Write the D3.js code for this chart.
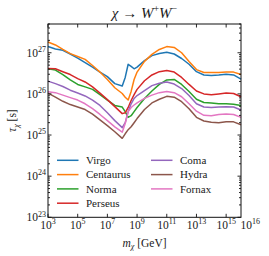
<!DOCTYPE html>
<html>
<head>
<meta charset="utf-8">
<script src="https://cdn.jsdelivr.net/npm/d3@7"></script>
<style>
  body { margin: 0; background: #fff; }
  text { font-family: "Liberation Serif", "DejaVu Serif", serif; fill: #1a1a1a; }
</style>
</head>
<body>
<div id="chart"></div>
<script>
// log10 of the dark matter mass in GeV
const massExp = [3, 3.5, 4, 4.5, 5, 5.5, 6, 6.5, 7, 7.5, 8, 8.2, 8.4, 8.6, 8.8, 9,
  9.5, 10, 10.5, 11, 11.5, 12, 12.5, 13, 13.5, 14, 14.5, 15, 15.5, 16];

// log10 of the lifetime bound in s
const virgo = [27.15, 27.09, 27.06, 26.97, 26.87, 26.76, 26.65, 26.53, 26.42, 26.25, 26.19, 26.40, 26.72, 26.67, 26.61,
  26.65, 26.81, 26.93, 26.98, 27.01, 26.97, 26.86, 26.72, 26.54, 26.46, 26.45, 26.46, 26.48, 26.46, 26.36];
const centaurus = [27.26, 27.19, 27.08, 26.98, 26.91, 26.84, 26.69, 26.53, 26.35, 26.15, 26.01, 25.92, 25.85, 26.06, 26.35,
  26.53, 26.79, 26.96, 27.08, 27.15, 27.13, 27.00, 26.79, 26.59, 26.52, 26.52, 26.52, 26.53, 26.53, 26.47];
const norma = [26.61, 26.58, 26.47, 26.34, 26.23, 26.17, 26.11, 25.98, 25.85, 25.72, 25.68, 25.57, 25.43, 25.47, 25.57,
  25.67, 25.89, 26.07, 26.23, 26.34, 26.35, 26.23, 26.06, 25.87, 25.79, 25.78, 25.76, 25.76, 25.75, 25.72];
const perseus = [26.62, 26.61, 26.54, 26.47, 26.37, 26.29, 26.17, 26.02, 25.86, 25.69, 25.52, 25.54, 25.67, 25.84, 25.98,
  26.11, 26.32, 26.46, 26.54, 26.57, 26.53, 26.40, 26.23, 26.07, 26.00, 25.98, 26.00, 26.02, 26.01, 25.93];
const coma = [26.31, 26.25, 26.18, 26.09, 26.02, 25.95, 25.85, 25.72, 25.54, 25.35, 25.18, 25.30, 25.57, 25.76, 25.89,
  25.96, 26.08, 26.20, 26.26, 26.29, 26.24, 26.13, 25.96, 25.76, 25.68, 25.67, 25.68, 25.69, 25.68, 25.61];
const hydra = [26.02, 25.92, 25.82, 25.74, 25.68, 25.62, 25.51, 25.37, 25.23, 25.08, 24.92, 25.03, 25.13, 25.20, 25.30,
  25.40, 25.62, 25.78, 25.87, 25.94, 25.92, 25.81, 25.64, 25.43, 25.34, 25.31, 25.30, 25.32, 25.32, 25.25];
const fornax = [26.05, 26.03, 25.97, 25.91, 25.85, 25.76, 25.64, 25.50, 25.35, 25.20, 25.07, 25.28, 25.57, 25.67, 25.73,
  25.78, 25.89, 25.97, 26.03, 26.06, 26.03, 25.93, 25.76, 25.58, 25.48, 25.47, 25.50, 25.51, 25.50, 25.43];

const clusterNames = ["Virgo", "Centaurus", "Norma", "Perseus", "Coma", "Hydra", "Fornax"];
const clusterValues = [virgo, centaurus, norma, perseus, coma, hydra, fornax];
const colors = ["#1f77b4", "#ff7f0e", "#2ca02c", "#d62728", "#9467bd", "#8c564b", "#e377c2"];

const xTickExp = [3, 5, 7, 9, 11, 13, 15, 16];
const yTickExp = [23, 24, 25, 26, 27];

const width = 269, height = 256;
const margin = {top: 24, right: 28, bottom: 38.7, left: 48};
const w = width - margin.left - margin.right;
const h = height - margin.top - margin.bottom;

const svg = d3.select("#chart").append("svg")
    .attr("width", width)
    .attr("height", height);
const g = svg.append("g")
    .attr("transform", `translate(${margin.left},${margin.top})`);

const x = d3.scaleLog().domain([1e3, 1e16]).range([0, w]);
const y = d3.scaleLog().domain([1e23, 5e27]).range([h, 0]);

// curves
const line = d3.line()
    .x(d => x(d[0]))
    .y(d => y(d[1]));

clusterValues.forEach((vals, i) => {
    const pts = massExp.map((m, j) => [Math.pow(10, m), Math.pow(10, vals[j])]);
    g.append("path")
        .datum(pts)
        .attr("fill", "none")
        .attr("stroke", colors[i])
        .attr("stroke-width", 1.5)
        .attr("stroke-linejoin", "round")
        .attr("d", line);
});

// frame
g.append("rect")
    .attr("width", w).attr("height", h)
    .attr("fill", "none").attr("stroke", "#111").attr("stroke-width", 1);

// y ticks, inward on both sides
const yMinor = [];
yTickExp.forEach(e => { for (let k = 2; k <= 9; k++) { const v = k * Math.pow(10, e); if (v <= 5e27) yMinor.push(v); } });
const ticks = g.append("g").attr("stroke", "#111").attr("stroke-width", 0.9);
yTickExp.forEach(e => {
    const yy = y(Math.pow(10, e));
    ticks.append("line").attr("x1", 0).attr("x2", 3.5).attr("y1", yy).attr("y2", yy);
    ticks.append("line").attr("x1", w).attr("x2", w - 3.5).attr("y1", yy).attr("y2", yy);
});
yMinor.forEach(v => {
    const yy = y(v);
    ticks.append("line").attr("x1", 0).attr("x2", 2).attr("y1", yy).attr("y2", yy);
    ticks.append("line").attr("x1", w).attr("x2", w - 2).attr("y1", yy).attr("y2", yy);
});
xTickExp.slice(0, -1).forEach(e => {
    const xx = x(Math.pow(10, e));
    ticks.append("line").attr("x1", xx).attr("x2", xx).attr("y1", h).attr("y2", h - 3.5);
    ticks.append("line").attr("x1", xx).attr("x2", xx).attr("y1", 0).attr("y2", 3.5);
});

// tick labels
function powerLabel(sel, exp) {
    sel.append("tspan").text("10");
    sel.append("tspan").attr("dy", -4.5).attr("font-size", 8).text(exp);
}
yTickExp.forEach(e => {
    const t = g.append("text")
        .attr("x", -2).attr("y", y(Math.pow(10, e)) + 3.8)
        .attr("text-anchor", "end")
        .attr("font-size", 11.5);
    powerLabel(t, e);
});
xTickExp.forEach((e, i) => {
    const last = i === xTickExp.length - 1;
    const t = g.append("text")
        .attr("x", x(Math.pow(10, e)) + (last ? -0.5 : 0)).attr("y", h + 11.2)
        .attr("text-anchor", last ? "start" : "middle")
        .attr("font-size", 11.5);
    powerLabel(t, e);
});

// axis titles
const xl = svg.append("text")
    .attr("x", margin.left + w / 2).attr("y", 246.5)
    .attr("text-anchor", "middle").attr("font-size", 11.5);
xl.append("tspan").attr("font-style", "italic").text("m");
xl.append("tspan").attr("font-style", "italic").attr("font-size", 8).attr("dy", 2.5).text("χ");
xl.append("tspan").attr("dy", -2.5).text(" [GeV]");

const yl = svg.append("text")
    .attr("transform", `translate(16,${margin.top + h / 2}) rotate(-90)`)
    .attr("text-anchor", "middle").attr("font-size", 11.5);
yl.append("tspan").attr("font-style", "italic").text("τ");
yl.append("tspan").attr("font-style", "italic").attr("font-size", 8).attr("dy", 2.5).text("χ");
yl.append("tspan").attr("dy", -2.5).text(" [s]");

// title
const title = svg.append("text")
    .attr("x", margin.left + w / 2).attr("y", 17.5)
    .attr("text-anchor", "middle").attr("font-size", 15);
title.append("tspan").attr("font-style", "italic").text("χ");
title.append("tspan").text(" → ");
title.append("tspan").attr("font-style", "italic").text("W");
title.append("tspan").attr("font-size", 10).attr("dy", -5.5).text("+");
title.append("tspan").attr("font-style", "italic").attr("dy", 5.5).text("W");
title.append("tspan").attr("font-size", 10).attr("dy", -5.5).text("−");

// legend, two columns
const legend = g.append("g");
clusterNames.forEach((name, i) => {
    const col = i < 4 ? 0 : 1;
    const row = i < 4 ? i : i - 4;
    const lx = 9 + col * 94;
    const ly = 136.3 + row * 14.3;
    legend.append("line")
        .attr("x1", lx).attr("x2", lx + 21.5)
        .attr("y1", ly).attr("y2", ly)
        .attr("stroke", colors[i]).attr("stroke-width", 1.5);
    legend.append("text")
        .attr("x", lx + 29).attr("y", ly + 3.8)
        .attr("font-size", 11)
        .text(name);
});
</script>
</body>
</html>
